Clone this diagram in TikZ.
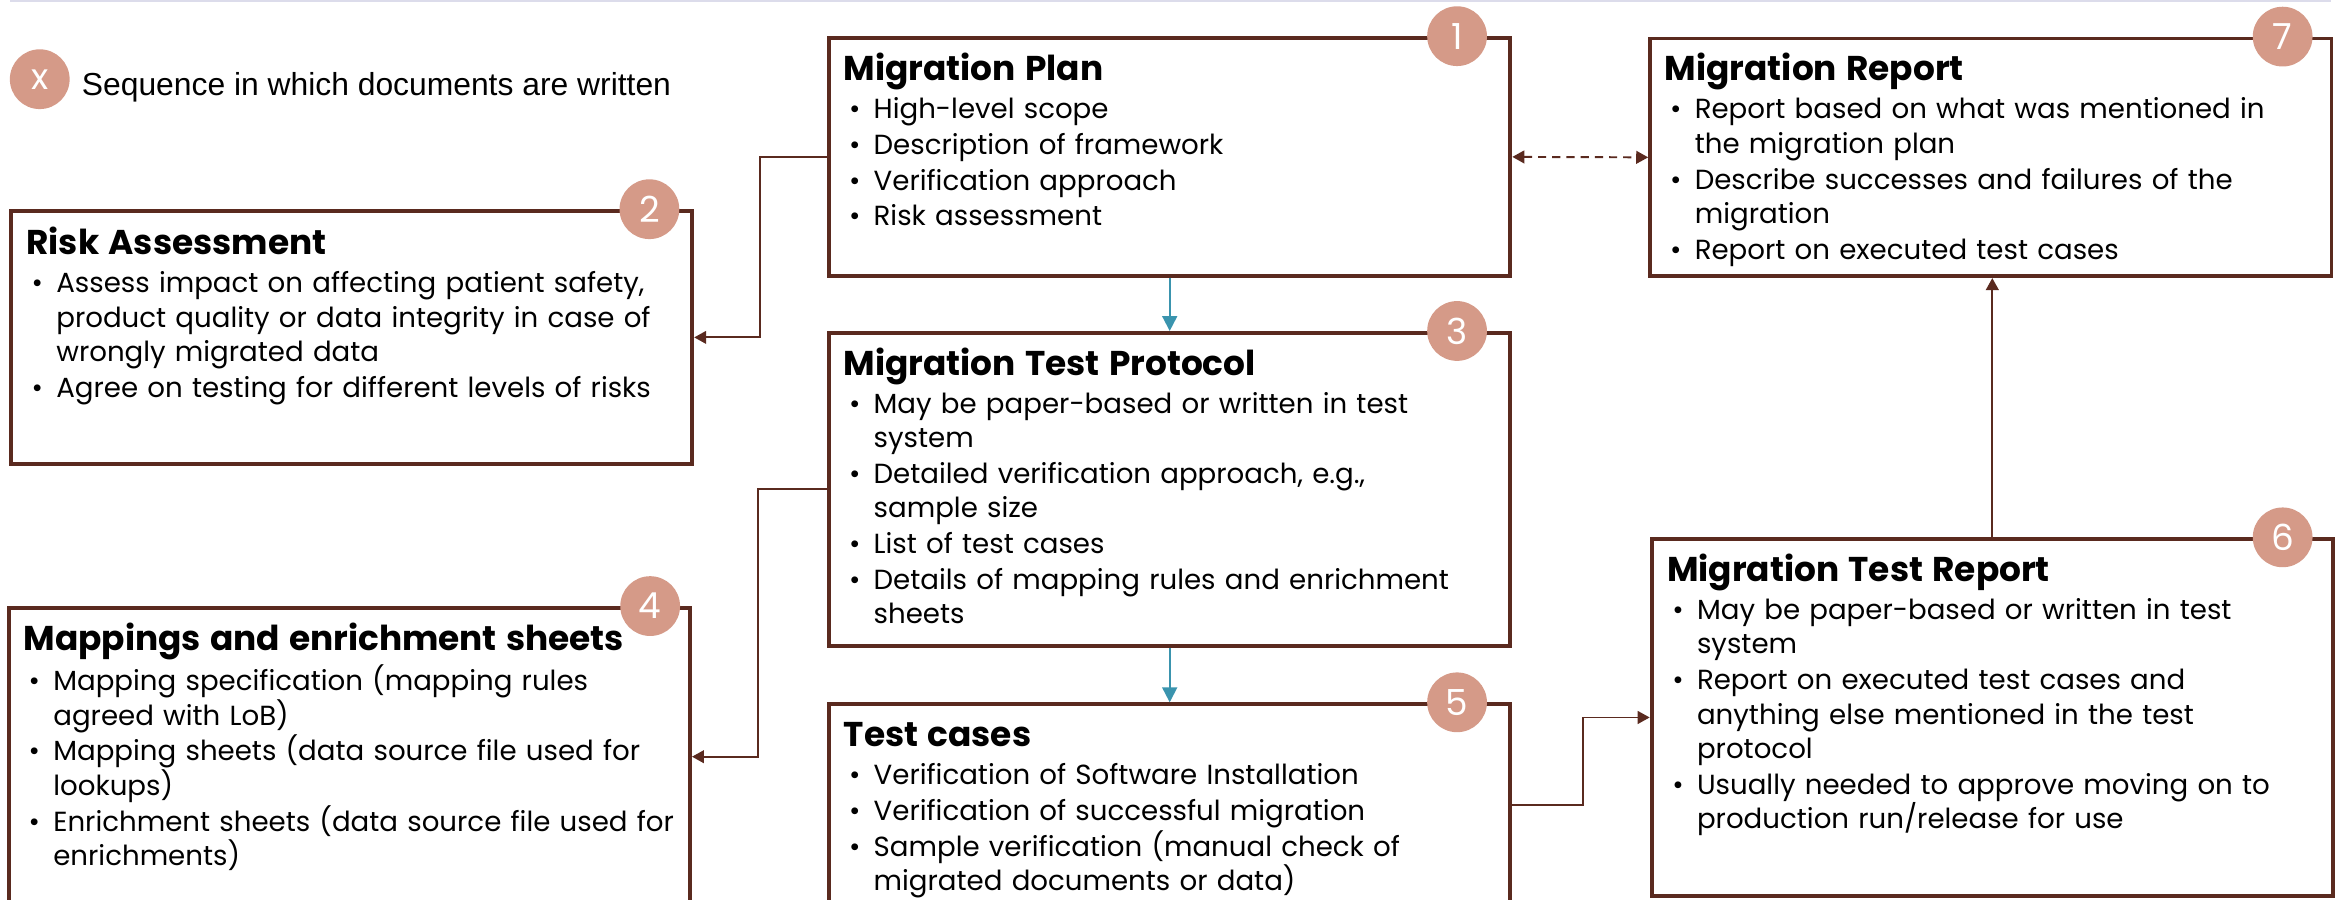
\documentclass[tikz,border=0pt]{standalone}
\usepackage{fontspec}
\setmainfont{Poppins}
\newfontfamily\legfont{Liberation Sans}
\usetikzlibrary{arrows.meta}

\definecolor{docbrown}{HTML}{5A2A1F}
\definecolor{seqpink}{HTML}{D59A88}
\definecolor{flowteal}{HTML}{3A94AE}
\definecolor{rulegrey}{HTML}{DCDCEB}

% title line and bullet items inside a document box
\newcommand{\doctitle}[1]{{\fontsize{23}{28}\selectfont\bfseries #1}\par\vspace{1.5pt}}
\newcommand{\bul}{\par\hangindent=20pt\hangafter=1\noindent\makebox[20pt][l]{\hspace{3.5pt}\textbullet}}

\begin{document}
\begin{tikzpicture}[x=1pt,y=-1pt,
    docbox/.style={draw=docbrown, line width=2.6pt, fill=white, anchor=north west,
      minimum width=456pt, inner sep=0pt},
    doctext/.style={anchor=base west, text width=445pt, align=left, inner sep=0pt,
      font=\fontsize{18.5}{23}\selectfont, execute at begin node=\setlength{\parskip}{1pt}},
    numcirc/.style={circle, fill=seqpink, minimum size=40pt, inner sep=0pt, text=white,
      font=\fontsize{24}{24}\selectfont},
    conn/.style={draw=docbrown, line width=1.3pt, -{Triangle[length=8pt,width=8.5pt]}},
    flow/.style={draw=flowteal, line width=1.3pt, -{Triangle[length=10pt,width=10pt]}}]
  \clip (0,0) rectangle (1568,602);
  \draw[rulegrey, line width=1.3pt] (7,0.7) -- (1560,0.7);

  % legend
  \node[numcirc] (key) at (26.6,53) {x};
  \node[anchor=base west, inner sep=0pt, font=\legfont\fontsize{21.3}{24}\selectfont] (keytxt) at (54.6,64)
    {Sequence in which documents are written};

  % document boxes
  \node[docbox, minimum height=159pt] (plan) at (553.5,24.2) {};
  \node[docbox, minimum height=159pt] (report) at (1103,24.5) {};
  \node[docbox, minimum height=169pt] (risk) at (6,140) {};
  \node[docbox, minimum height=209.5pt] (protocol) at (553.5,221.5) {};
  \node[docbox, minimum height=199pt] (mapping) at (4.5,405.6) {};
  \node[docbox, minimum height=135pt] (tests) at (553.5,470) {};
  \node[docbox, minimum height=238.5pt] (testrep) at (1104,359.6) {};

  \node[doctext] (plan-txt) at ([shift={(11,29.5)}]plan.north west) {\doctitle{Migration Plan}
    \bul High-level scope
    \bul Description of framework
    \bul Verification approach
    \bul Risk assessment\par};
  \node[doctext] (report-txt) at ([shift={(11,29.5)}]report.north west) {\doctitle{Migration Report}
    \bul Report based on what was mentioned in\newline the migration plan
    \bul Describe successes and failures of the\newline migration
    \bul Report on executed test cases\par};
  \node[doctext] (risk-txt) at ([shift={(11.5,30.5)}]risk.north west) {\doctitle{Risk Assessment}
    \bul Assess impact on affecting patient safety,\newline product quality or data integrity in case of\newline wrongly migrated data
    \bul Agree on testing for different levels of risks\par};
  \node[doctext] (protocol-txt) at ([shift={(11,29.5)}]protocol.north west) {\doctitle{Migration Test Protocol}
    \bul May be paper-based or written in test\newline system
    \bul Detailed verification approach, e.g.,\newline sample size
    \bul List of test cases
    \bul Details of mapping rules and enrichment\newline sheets\par};
  \node[doctext] (mapping-txt) at ([shift={(11,29.5)}]mapping.north west) {\doctitle{Mappings and enrichment sheets}
    \bul Mapping specification (mapping rules\newline agreed with LoB)
    \bul Mapping sheets (data source file used for\newline lookups)
    \bul Enrichment sheets (data source file used for\newline enrichments)\par};
  \node[doctext] (tests-txt) at ([shift={(11,29.5)}]tests.north west) {\doctitle{Test cases}
    \bul Verification of Software Installation
    \bul Verification of successful migration
    \bul Sample verification (manual check of\newline migrated documents or data)\par};
  \node[doctext] (testrep-txt) at ([shift={(11.5,29.5)}]testrep.north west) {\doctitle{Migration Test Report}
    \bul May be paper-based or written in test\newline system
    \bul Report on executed test cases and\newline anything else mentioned in the test\newline protocol
    \bul Usually needed to approve moving on to\newline production run/release for use\par};

  % sequence numbers
  \node[numcirc] (n1) at ([xshift=-37]plan.north east) {1};
  \node[numcirc] (n2) at ([xshift=-30]risk.north east) {2};
  \node[numcirc] (n3) at ([xshift=-37]protocol.north east) {3};
  \node[numcirc] (n4) at ([xshift=-28]mapping.north east) {4};
  \node[numcirc] (n5) at ([xshift=-37]tests.north east) {5};
  \node[numcirc] (n6) at ([xshift=-35]testrep.north east) {6};
  \node[numcirc] (n7) at ([xshift=-34]report.north east) {7};

  % connectors
  \draw[conn] (plan.west) -- ([xshift=-45]plan.west) |- (risk.east);
  \draw[conn] (protocol.west) -- ([xshift=-46]protocol.west) |- (mapping.east);
  \draw[flow] (plan.south) -- (protocol.north);
  \draw[flow] (protocol.south) -- (tests.north);
  \draw[conn] (tests.east) -- ([xshift=47]tests.east) |- (testrep.west);
  \draw[conn] (testrep.north) -- (testrep.north |- report.south);
  \draw[conn, {Triangle[length=8pt,width=8.5pt]}-{Triangle[length=8pt,width=8.5pt]},
    dash pattern=on 5.5pt off 4pt] (plan.east) -- (report.west);
\end{tikzpicture}
\end{document}
